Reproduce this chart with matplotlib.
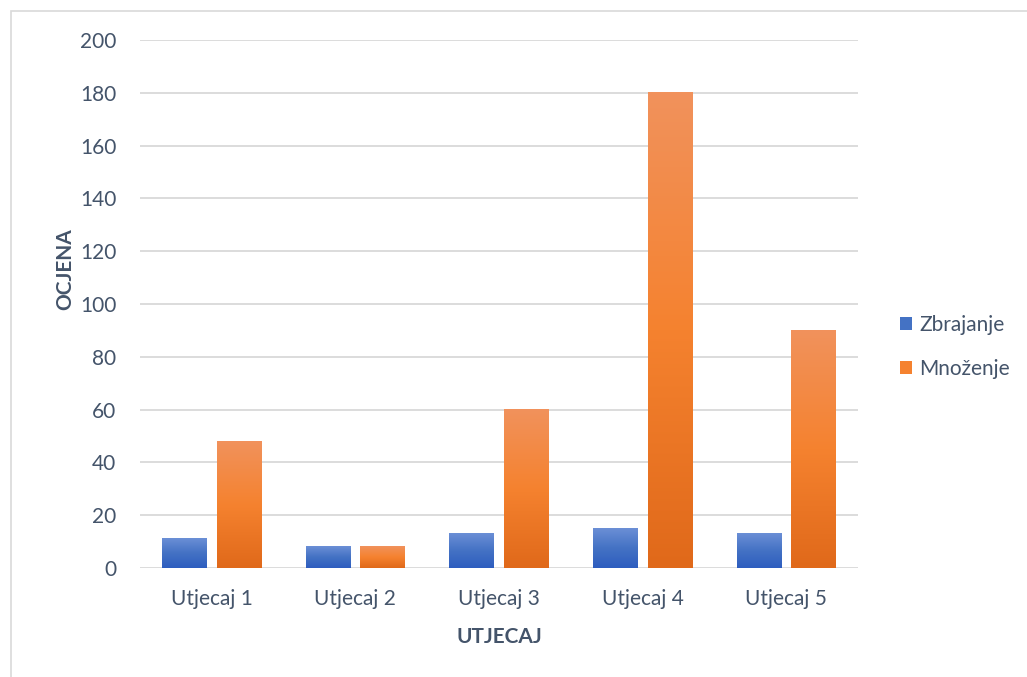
import matplotlib.pyplot as plt
import matplotlib.patches as mpatches
import numpy as np
from matplotlib.colors import LinearSegmentedColormap

categories = ["Utjecaj 1", "Utjecaj 2", "Utjecaj 3", "Utjecaj 4", "Utjecaj 5"]
zbrajanje = [11, 8, 13, 15, 13]
mnozenje = [48, 8, 60, 180, 90]
yticks = [0, 20, 40, 60, 80, 100, 120, 140, 160, 180, 200]

text_color = "#44546A"
plt.rcParams["font.family"] = ["Lato", "DejaVu Sans"]

blue_cmap = LinearSegmentedColormap.from_list("b", ["#2D5DBF", "#4472C4", "#6B8FD6"])
orange_cmap = LinearSegmentedColormap.from_list("o", ["#E0691A", "#F5822F", "#F1925C"])

fig = plt.figure(figsize=(10.27, 6.77), dpi=100)
# chart border (cropped at right and bottom in the reference)
fig.patches.append(mpatches.Rectangle((11 / 1027, -0.05), 1.1, 1 - 11 / 677 + 0.05,
                                      transform=fig.transFigure, fill=False,
                                      edgecolor="#D9D9D9", linewidth=1.2))

ax = fig.add_axes([140 / 1027, 1 - 568 / 677, 718 / 1027, 528 / 677])

x = np.arange(len(categories))
w = 0.31
off = 0.19
b1 = ax.bar(x - off, zbrajanje, w, color="#4472C4", label="Zbrajanje", zorder=2)
b2 = ax.bar(x + off, mnozenje, w, color="#F5822F", label="Množenje", zorder=2)

grad = np.linspace(0, 1, 256).reshape(-1, 1)
for bars, cmap in ((b1, blue_cmap), (b2, orange_cmap)):
    for bar in bars:
        x0 = bar.get_x()
        h = bar.get_height()
        ax.imshow(grad, extent=(x0, x0 + bar.get_width(), 0, h), origin="lower",
                  cmap=cmap, aspect="auto", zorder=3)

ax.set_xlim(-0.5, len(categories) - 0.5)
ax.set_ylim(0, 200)
ax.set_yticks(yticks)
ax.set_xticks(x)
ax.set_xticklabels(categories)
ax.yaxis.grid(True, color="#D9D9D9", linewidth=1.3, zorder=0)
ax.set_axisbelow(True)
for s in ax.spines.values():
    s.set_visible(False)
ax.tick_params(axis="both", length=0, labelsize=15, colors=text_color)
ax.tick_params(axis="y", pad=17)
ax.tick_params(axis="x", pad=15)

ax.set_ylabel("OCJENA", fontsize=15, fontweight="bold", color=text_color, va="center")
ax.yaxis.set_label_coords(-0.104, 0.566)
ax.set_xlabel("UTJECAJ", fontsize=15, fontweight="bold", color=text_color, va="center")
ax.xaxis.set_label_coords(0.5, -0.131)

leg = ax.legend(loc="center left", bbox_to_anchor=(1.058, 0.419), frameon=False,
                fontsize=15, labelcolor=text_color, handlelength=0.6,
                handleheight=0.6, handletextpad=0.35, labelspacing=1.15,
                borderpad=0, borderaxespad=0)

fig.savefig("out.png", dpi=100)
